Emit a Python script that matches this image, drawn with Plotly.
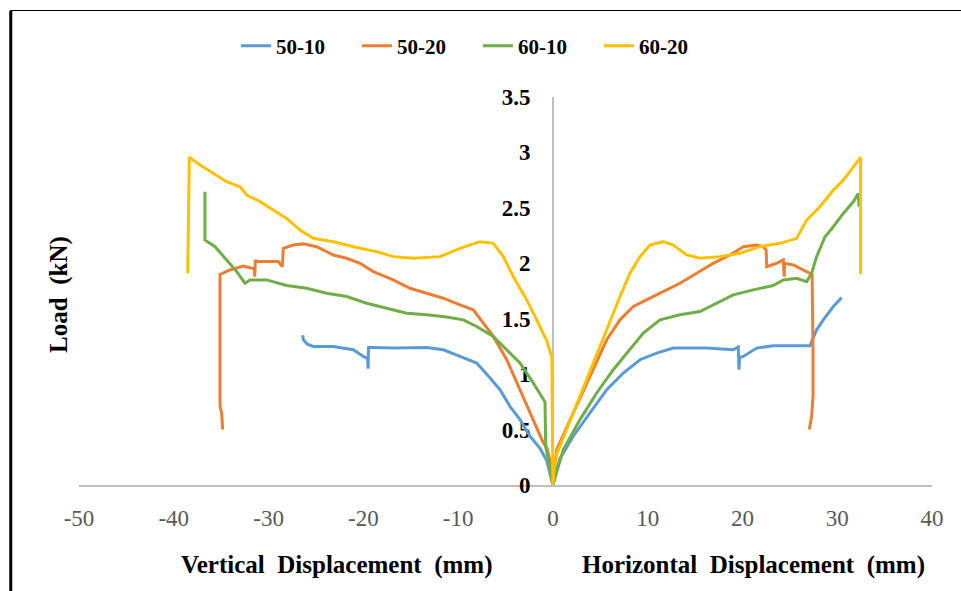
import plotly.graph_objects as go

# ---- data (x < 0: vertical displacement, x > 0: horizontal displacement) ----
series_names = ["50-10", "50-20", "60-10", "60-20"]
series_colors = ["#5B9BD5", "#ED7D31", "#70AD47", "#FFC000"]

x_50_10 = [-26.40, -26.33, -25.90, -25.28, -23.17, -21.06, -20.00, -19.55, -19.50, -19.45, -19.00,
           -16.84, -13.32, -11.56, -9.80, -8.04, -6.98, -5.58, -4.53, -3.47, -2.42, -1.36, -0.65, -0.13, 0.0,
           0.75, 2.15, 3.91, 5.68, 7.43, 9.19, 10.95, 12.70, 16.23, 19.03, 19.56, 19.63, 19.70, 20.09,
           21.50, 23.25, 27.13, 27.83, 28.53, 29.59, 30.47]
y_50_10 = [1.35, 1.31, 1.27, 1.25, 1.25, 1.22, 1.16, 1.14, 1.05, 1.24, 1.24,
           1.235, 1.24, 1.22, 1.16, 1.10, 1.00, 0.86, 0.71, 0.59, 0.44, 0.33, 0.22, 0.05, 0.0,
           0.24, 0.44, 0.65, 0.86, 1.01, 1.13, 1.19, 1.235, 1.235, 1.22, 1.245, 1.04, 1.15, 1.16,
           1.235, 1.255, 1.255, 1.40, 1.49, 1.61, 1.69]

x_50_20 = [-34.84, -34.95, -35.12, -35.12, -34.07, -32.67, -31.78, -31.50, -31.45, -31.40, -31.25,
           -28.97, -28.55, -28.44, -27.39, -26.33, -24.92, -23.17, -21.76, -20.35, -18.95, -16.84,
           -15.08, -13.32, -11.56, -9.80, -8.40, -7.34, -6.29, -4.87, -3.47, -2.07, -1.01, -0.65, -0.30, 0.0,
           0.40, 2.15, 3.91, 5.68, 7.08, 8.49, 10.24, 12.00, 13.41, 15.17, 16.92, 18.69, 20.09, 21.50,
           22.20, 22.50, 22.56, 23.61, 24.31, 24.40, 24.45, 25.37, 26.42, 27.13, 27.35, 27.45, 27.45,
           27.30, 27.05]
y_50_20 = [0.50, 0.65, 0.71, 1.90, 1.94, 1.975, 1.955, 1.955, 1.88, 2.03, 2.015,
           2.015, 1.97, 2.135, 2.165, 2.175, 2.15, 2.075, 2.045, 2.00, 1.925, 1.85,
           1.775, 1.73, 1.685, 1.625, 1.58, 1.46, 1.34, 1.13, 0.86, 0.59, 0.38, 0.34, 0.22, 0.0,
           0.32, 0.65, 0.98, 1.31, 1.49, 1.61, 1.685, 1.76, 1.82, 1.91, 2.00, 2.075, 2.15, 2.165,
           2.15, 2.12, 1.97, 2.00, 2.03, 1.88, 2.00, 1.985, 1.94, 1.91, 1.90, 1.20, 0.80,
           0.62, 0.50]

x_60_10 = [-36.71, -36.71, -35.65, -34.42, -33.36, -32.49, -31.96, -30.20, -28.09, -25.98, -23.87,
           -21.76, -19.65, -17.54, -15.43, -13.32, -11.21, -9.45, -8.04, -6.29, -4.87, -3.47, -2.07,
           -0.83, -0.76, -0.40, 0.0,
           1.10, 2.86, 4.62, 6.37, 8.13, 9.54, 11.30, 13.41, 15.52, 17.28, 19.03, 21.14, 23.25, 24.31,
           25.72, 26.78, 27.30, 27.83, 28.71, 29.59, 30.64, 31.70, 32.22, 32.30]
y_60_10 = [2.646, 2.21, 2.15, 2.03, 1.925, 1.82, 1.85, 1.85, 1.80, 1.775, 1.73,
           1.70, 1.64, 1.595, 1.55, 1.535, 1.515, 1.49, 1.43, 1.34, 1.22, 1.10, 0.92,
           0.75, 0.345, 0.20, 0.0,
           0.32, 0.59, 0.83, 1.04, 1.22, 1.37, 1.49, 1.535, 1.565, 1.64, 1.715, 1.76, 1.80, 1.85,
           1.865, 1.835, 1.91, 2.06, 2.24, 2.33, 2.45, 2.555, 2.63, 2.51]

x_60_20 = [-38.53, -38.36, -37.23, -34.42, -33.00, -32.30, -30.90, -29.50, -28.09, -26.68, -25.28,
           -23.17, -20.35, -18.59, -16.84, -14.73, -11.91, -9.80, -7.69, -6.29, -5.23, -4.18, -2.77,
           -1.71, -0.65, -0.10, -0.06, 0.0,
           0.22, 1.46, 2.86, 4.26, 5.68, 7.08, 8.13, 9.19, 10.24, 11.65, 12.70, 14.12, 15.52, 17.63,
           19.74, 21.85, 23.96, 25.72, 26.78, 28.18, 29.59, 30.64, 31.70, 32.47, 32.47]
y_60_20 = [1.91, 2.956, 2.887, 2.736, 2.69, 2.616, 2.556, 2.48, 2.405, 2.30, 2.225,
           2.195, 2.135, 2.105, 2.06, 2.045, 2.06, 2.135, 2.195, 2.18, 2.06, 1.88, 1.67,
           1.49, 1.30, 1.15, 0.11, 0.0,
           0.24, 0.50, 0.80, 1.10, 1.40, 1.70, 1.91, 2.06, 2.165, 2.195, 2.165, 2.075, 2.045, 2.06,
           2.09, 2.15, 2.18, 2.225, 2.39, 2.51, 2.66, 2.75, 2.87, 2.956, 1.90]

y_tick_vals = [0, 0.5, 1, 1.5, 2, 2.5, 3, 3.5]
y_tick_text = ["0", "0.5", "1", "1.5", "2", "2.5", "3", "3.5"]
x_tick_vals = [-50, -40, -30, -20, -10, 0, 10, 20, 30, 40]
x_tick_text = ["-50", "-40", "-30", "-20", "-10", "0", "10", "20", "30", "40"]

xs = [x_50_10, x_50_20, x_60_10, x_60_20]
ys = [y_50_10, y_50_20, y_60_10, y_60_20]

FONT = "Liberation Serif"

fig = go.Figure()
for name, color, x, y in zip(series_names, series_colors, xs, ys):
    fig.add_trace(go.Scatter(x=x, y=y, mode="lines", name=name,
                             line=dict(color=color, width=3)))

x_min, x_max = -50, 40
fig.update_layout(
    width=961, height=591,
    margin=dict(l=79, r=29, t=97, b=106),
    paper_bgcolor="white", plot_bgcolor="white",
    font=dict(family=FONT, color="black"),
    showlegend=True,
    legend=dict(orientation="h", x=0.184, y=1.131, xanchor="left", yanchor="middle",
                font=dict(family=FONT, size=21, color="black", weight="bold"),
                entrywidth=76, entrywidthmode="pixels", bgcolor="rgba(0,0,0,0)",
                itemclick=False),
    xaxis=dict(range=[x_min, x_max], tickvals=x_tick_vals, ticktext=x_tick_text,
               showgrid=False, zeroline=False, showline=True, linecolor="#BFBFBF", linewidth=1.5,
               ticks="", tickfont=dict(family=FONT, size=23, color="#595959"),
               ticklabelstandoff=12, layer="below traces"),
    yaxis=dict(range=[0, 3.5], tickvals=y_tick_vals, ticktext=y_tick_text,
               anchor="free", position=(0 - x_min) / (x_max - x_min),
               showgrid=False, zeroline=False, showline=True, linecolor="#BFBFBF", linewidth=1.5,
               ticks="", tickfont=dict(family=FONT, size=23, color="black", weight="bold"),
               ticklabelstandoff=17, layer="below traces"),
)

title_font = dict(family=FONT, size=25, color="black", weight="bold")
fig.add_annotation(text="Load\u00a0\u00a0(kN)", xref="paper", yref="paper", x=-0.0234, y=0.49,
                   textangle=-90, showarrow=False, font=title_font, xanchor="center", yanchor="middle")
fig.add_annotation(text="Vertical\u00a0\u00a0Displacement\u00a0\u00a0(mm)", xref="paper", yref="paper",
                   x=0.3025, y=-0.206, showarrow=False, font=title_font, xanchor="center", yanchor="middle")
fig.add_annotation(text="Horizontal\u00a0\u00a0Displacement\u00a0\u00a0(mm)", xref="paper", yref="paper",
                   x=0.7908, y=-0.206, showarrow=False, font=title_font, xanchor="center", yanchor="middle")

# outer frame (left thick edge and top edge)
fig.add_shape(type="line", xref="paper", yref="paper", x0=-0.0800, x1=-0.0800, y0=1.2229, y1=-0.30,
              line=dict(color="black", width=3))
fig.add_shape(type="line", xref="paper", yref="paper", x0=-0.0800, x1=1.04, y0=1.2229, y1=1.2229,
              line=dict(color="black", width=1))

fig.write_html("out.html")
